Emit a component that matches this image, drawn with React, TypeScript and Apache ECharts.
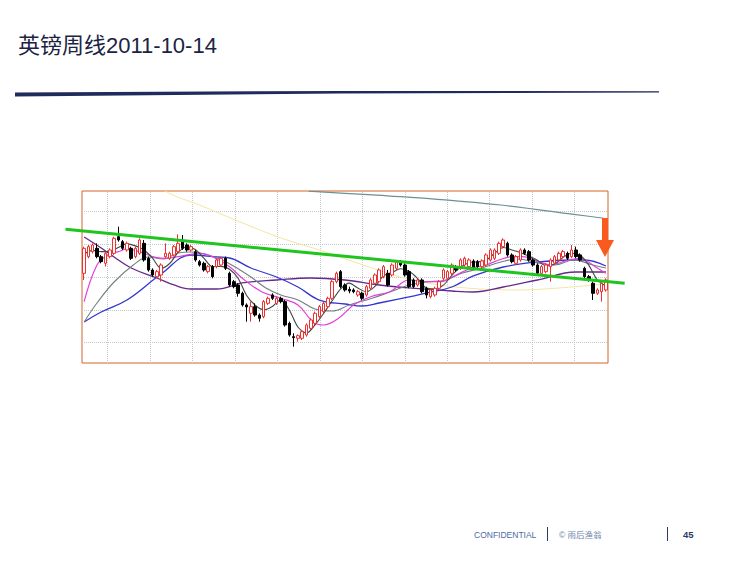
import React, { useEffect, useRef } from "react";
import * as echarts from "echarts";

// Weekly GBP candles (open, close, low, high)
const OPEN = [1.5990,1.6397,1.6519,1.6600,1.6397,1.6234,1.6397,1.6478,1.6885,1.6763,1.6560,1.6600,1.6397,1.6478,1.6722,1.6356,1.6071,1.5909,1.5949,1.6397,1.6356,1.6438,1.6519,1.6763,1.6682,1.6560,1.6519,1.6275,1.6234,1.6031,1.6153,1.6153,1.6193,1.6356,1.5990,1.5786,1.5705,1.5502,1.5217,1.5013,1.5176,1.4972,1.4932,1.5257,1.5461,1.5257,1.5379,1.5298,1.4769,1.4443,1.4403,1.4403,1.4484,1.4647,1.4769,1.4932,1.5054,1.5176,1.5379,1.5786,1.6031,1.5705,1.5599,1.5583,1.5461,1.5502,1.5461,1.5624,1.5746,1.5786,1.5909,1.5990,1.5949,1.6112,1.6258,1.6193,1.6031,1.5827,1.5705,1.5827,1.5624,1.5420,1.5461,1.5624,1.5868,1.5868,1.5990,1.6153,1.6112,1.6193,1.6153,1.6291,1.6275,1.6153,1.6193,1.6316,1.6356,1.6478,1.6641,1.6722,1.6438,1.6234,1.6316,1.6560,1.6519,1.6316,1.6193,1.5990,1.6031,1.6153,1.6234,1.6316,1.6397,1.6478,1.6397,1.6560,1.6438,1.6112,1.5909,1.5746,1.5502,1.5542,1.5583];
const CLOSE = [1.6600,1.6641,1.6682,1.6397,1.6275,1.6478,1.6560,1.6845,1.6804,1.6600,1.6722,1.6356,1.6600,1.6804,1.6316,1.6071,1.5949,1.6031,1.6193,1.6478,1.6478,1.6641,1.6722,1.6600,1.6560,1.6641,1.6316,1.6193,1.6071,1.6153,1.5909,1.6316,1.6356,1.6112,1.5705,1.5664,1.5502,1.5217,1.5168,1.5176,1.4972,1.4891,1.5298,1.5379,1.5379,1.5379,1.5298,1.4728,1.4484,1.4419,1.4468,1.4565,1.4728,1.4850,1.5013,1.5176,1.5257,1.5379,1.5786,1.5990,1.5664,1.5583,1.5558,1.5542,1.5542,1.5379,1.5664,1.5827,1.5949,1.6071,1.6153,1.5705,1.6193,1.6275,1.6193,1.5949,1.5664,1.5664,1.5827,1.5542,1.5461,1.5583,1.5624,1.5786,1.6071,1.6031,1.6193,1.6071,1.6316,1.6356,1.6316,1.6128,1.6153,1.6291,1.6438,1.6560,1.6560,1.6722,1.6804,1.6438,1.6275,1.6397,1.6560,1.6478,1.6316,1.6193,1.5990,1.6153,1.6193,1.6316,1.6397,1.6478,1.6519,1.6356,1.6560,1.6397,1.6316,1.5909,1.5827,1.5502,1.5583,1.5746,1.5827];
const LOW = [1.5827,1.6356,1.6478,1.6356,1.6234,1.6153,1.6356,1.6438,1.6763,1.6560,1.6519,1.6316,1.6356,1.6438,1.6275,1.6031,1.5909,1.5868,1.5786,1.6356,1.6316,1.6397,1.6478,1.6560,1.6519,1.6519,1.6275,1.6153,1.6031,1.5990,1.5868,1.6112,1.6153,1.6071,1.5664,1.5624,1.5420,1.5176,1.4810,1.4810,1.4932,1.4810,1.4891,1.5217,1.5339,1.5217,1.5257,1.4688,1.4443,1.4199,1.4321,1.4362,1.4443,1.4606,1.4728,1.4891,1.5013,1.5135,1.5339,1.5746,1.5624,1.5542,1.5502,1.5502,1.5420,1.5339,1.5420,1.5583,1.5705,1.5746,1.5868,1.5664,1.5909,1.6071,1.6153,1.5909,1.5624,1.5624,1.5664,1.5502,1.5379,1.5379,1.5420,1.5583,1.5827,1.5827,1.5949,1.6031,1.6071,1.6153,1.6112,1.6088,1.6112,1.6112,1.6153,1.6275,1.6316,1.6438,1.6600,1.6397,1.6234,1.6193,1.6275,1.6438,1.6275,1.6153,1.5949,1.5949,1.5990,1.5786,1.6193,1.6275,1.6356,1.6316,1.6356,1.6356,1.6275,1.5868,1.5786,1.5339,1.5461,1.5298,1.5542];
const HIGH = [1.6641,1.6682,1.6722,1.6722,1.6438,1.6519,1.6600,1.6885,1.7129,1.6804,1.6763,1.6641,1.6641,1.6845,1.6804,1.6397,1.6112,1.6071,1.6234,1.6722,1.6519,1.6682,1.6942,1.6926,1.6722,1.6682,1.6560,1.6316,1.6275,1.6193,1.6193,1.6356,1.6397,1.6397,1.6031,1.5827,1.5746,1.5542,1.5257,1.5298,1.5257,1.5013,1.5339,1.5420,1.5502,1.5420,1.5420,1.5339,1.4810,1.4525,1.4500,1.4606,1.4769,1.4891,1.5054,1.5217,1.5298,1.5420,1.5827,1.6031,1.6071,1.5746,1.5664,1.5624,1.5583,1.5542,1.5705,1.5868,1.5990,1.6112,1.6193,1.6071,1.6234,1.6316,1.6316,1.6234,1.6071,1.5868,1.5868,1.5868,1.5664,1.5624,1.5664,1.5827,1.6112,1.6071,1.6234,1.6193,1.6356,1.6397,1.6356,1.6332,1.6316,1.6332,1.6478,1.6600,1.6600,1.6763,1.6845,1.6763,1.6478,1.6438,1.6600,1.6600,1.6560,1.6356,1.6234,1.6193,1.6234,1.6356,1.6438,1.6519,1.6560,1.6519,1.6682,1.6641,1.6478,1.6153,1.5949,1.5786,1.5624,1.5786,1.5868];

// Moving averages as [week index, price]
const MA5 = [[0,1.646],[2,1.655],[4,1.652],[6,1.652],[8,1.662],[10,1.671],[12,1.666],[14,1.656],[16,1.636],[18,1.611],[20,1.623],[22,1.650],[24,1.664],[26,1.657],[28,1.636],[30,1.615],[32,1.616],[34,1.609],[36,1.587],[38,1.545],[40,1.521],[42,1.510],[44,1.518],[46,1.535],[48,1.509],[50,1.468],[52,1.453],[54,1.473],[56,1.501],[58,1.532],[60,1.561],[62,1.575],[64,1.563],[66,1.554],[68,1.567],[70,1.593],[72,1.601],[74,1.610],[76,1.604],[78,1.586],[80,1.563],[82,1.561],[84,1.570],[86,1.594],[88,1.614],[90,1.625],[92,1.627],[94,1.631],[96,1.648],[98,1.662],[100,1.656],[102,1.650],[104,1.641],[106,1.631],[108,1.617],[110,1.621],[112,1.638],[114,1.648],[116,1.643],[118,1.619],[120,1.583],[122,1.568]];
const MA10 = [[0,1.5297],[3,1.6193],[5.5,1.6437],[8,1.6518],[10,1.6584],[13,1.6518],[17,1.6371],[19,1.6357],[22,1.6396],[24,1.6437],[27,1.6479],[30,1.6396],[34,1.6152],[37,1.5868],[41.5,1.5541],[46,1.5380],[50,1.5216],[53.5,1.4809],[56,1.4728],[59.5,1.4892],[63,1.5216],[67,1.5419],[71.5,1.5541],[76,1.5827],[80,1.5785],[83.5,1.5785],[87,1.5949],[90.5,1.6113],[94,1.6193],[97,1.6315],[100,1.6396],[102.5,1.6396],[106,1.6291],[109,1.6193],[112.5,1.6291],[116,1.6357],[119.5,1.6152],[122,1.5990]];
const MA20 = [[0,1.4801],[3,1.5265],[7,1.5778],[11.5,1.6193],[15,1.6389],[18.5,1.6340],[22,1.6486],[25,1.6511],[30.5,1.6389],[34.5,1.6193],[39,1.5900],[42.5,1.5632],[46,1.5461],[50,1.5338],[54,1.5119],[58,1.5070],[62,1.5216],[67.5,1.5387],[71.5,1.5534],[76,1.5705],[80,1.5778],[84.5,1.5827],[88.5,1.5998],[93,1.6120],[97.5,1.6266],[101.5,1.6340],[106,1.6242],[110,1.6193],[114.5,1.6315],[119,1.6193],[122,1.6120]];
const MA30 = [[0,1.4801],[4,1.5045],[10,1.5338],[18,1.5973],[25,1.6437],[31,1.6389],[34,1.6364],[39,1.6120],[45,1.5900],[50,1.5656],[55,1.5338],[61,1.5241],[65,1.5192],[69,1.5265],[76,1.5412],[80,1.5509],[86,1.5656],[91,1.5925],[98,1.6144],[106,1.6266],[114,1.6315],[117,1.6315],[122,1.6169]];
const MA60 = [[0,1.6877],[4,1.6608],[7,1.6389],[11,1.6120],[17,1.5876],[21,1.5705],[25,1.5607],[31,1.5607],[37,1.5754],[45,1.5827],[53,1.5876],[61,1.5827],[69,1.5705],[76,1.5632],[86,1.5558],[91,1.5534],[98,1.5656],[106,1.5827],[115,1.6022],[122,1.6022]];
const MA120 = [[15,1.8537],[19,1.8000],[27,1.7658],[36.5,1.7243],[46,1.6853],[55,1.6559],[64.5,1.6218],[74,1.5900],[83,1.5705],[92.5,1.5607],[102,1.5583],[111,1.5632],[122,1.5729]];
const MA250 = [[52.5,1.7995],[67.5,1.7903],[80,1.7822],[97.5,1.7658],[114.5,1.7431],[121.5,1.7334]];

// Trend line drawn on the slide (extends beyond the plot)
const TREND = [[-4.35, 1.7065], [126.4, 1.5746]];

// Dotted grid positions
const H_GRID = [1.4337, 1.5131, 1.5925, 1.6718, 1.7512];
const V_GRID = [5.5, 15.4, 25.2, 35.3, 45.2, 55.1, 65.0, 75.0, 84.9, 94.7, 104.8, 114.7];

const TITLE = "英镑周线2011-10-14";
const FOOT_LEFT = "CONFIDENTIAL";
const FOOT_MID = "© 雨后渔翁";
const PAGE_NO = "45";

export default function App() {
  const ref = useRef<HTMLDivElement>(null);

  useEffect(() => {
    const chart = echarts.init(ref.current as HTMLDivElement, null, { renderer: "svg" });
    const candles = OPEN.map((o, i) => [o, CLOSE[i], LOW[i], HIGH[i]]);
    const cats = OPEN.map((_, i) => String(i));

    const ma = (name: string, data: number[][], color: string, width = 1.2, smooth = 0.35) => ({
      type: "line",
      name,
      xAxisIndex: 1,
      yAxisIndex: 0,
      data,
      symbol: "none",
      showSymbol: false,
      smooth,
      clip: true,
      silent: true,
      z: 3,
      lineStyle: { color, width },
      itemStyle: { color },
    });

    const font = '"Liberation Sans", "Noto Sans CJK SC", sans-serif';

    const staticGraphics: any[] = [
      {
        id: "title",
        type: "text",
        x: 18,
        y: 45,
        style: {
          text: TITLE,
          font: "22px " + font,
          fill: "#1b2444",
          textVerticalAlign: "middle",
          verticalAlign: "middle",
        },
      },
      {
        id: "swoosh",
        type: "polygon",
        shape: {
          points: [[15, 92.6], [340, 90.9], [659, 91.2], [659, 92.5], [340, 93.4], [15, 96.6]],
        },
        style: { fill: "#1f2b5d" },
      },
      {
        id: "arrow",
        type: "polygon",
        z: 20,
        shape: {
          points: [[602, 218], [608, 218], [608, 240], [614, 240], [605, 257], [596, 240], [602, 240]],
        },
        style: { fill: "#fa5a1e" },
      },
      {
        id: "foot1",
        type: "text",
        x: 474,
        y: 534.5,
        style: {
          text: FOOT_LEFT,
          font: "8.5px " + font,
          fill: "#4c6ba3",
          textVerticalAlign: "middle",
          verticalAlign: "middle",
        },
      },
      {
        id: "sep1",
        type: "line",
        shape: { x1: 547.5, y1: 527, x2: 547.5, y2: 541 },
        style: { stroke: "#2b3a67", lineWidth: 1 },
      },
      {
        id: "foot2",
        type: "text",
        x: 559,
        y: 534.5,
        style: {
          text: FOOT_MID,
          font: "8.5px " + font,
          fill: "#6d84ad",
          textVerticalAlign: "middle",
          verticalAlign: "middle",
        },
      },
      {
        id: "sep2",
        type: "line",
        shape: { x1: 667.5, y1: 527, x2: 667.5, y2: 541 },
        style: { stroke: "#2b3a67", lineWidth: 1 },
      },
      {
        id: "page",
        type: "text",
        x: 683,
        y: 534.5,
        style: {
          text: PAGE_NO,
          font: "bold 9.5px " + font,
          fill: "#2b3a67",
          textVerticalAlign: "middle",
          verticalAlign: "middle",
        },
      },
    ];

    chart.setOption({
      animation: false,
      backgroundColor: "#ffffff",
      grid: {
        left: 82,
        top: 191,
        width: 526,
        height: 172,
        show: true,
        borderColor: "#d4622a",
        borderWidth: 1,
        backgroundColor: "#ffffff",
      },
      xAxis: [
        { type: "category", data: cats, boundaryGap: true, show: false },
        { type: "value", min: -0.5, max: 122.5, show: false, splitLine: { show: false } },
      ],
      yAxis: [
        { type: "value", min: 1.38, max: 1.8, scale: true, show: false, splitLine: { show: false } },
      ],
      series: [
        {
          type: "line",
          name: "grid",
          xAxisIndex: 1,
          yAxisIndex: 0,
          data: [[-0.5, 1.5], [122.5, 1.5]],
          symbol: "none",
          lineStyle: { opacity: 0, width: 0 },
          silent: true,
          z: 1,
          markLine: {
            z: 1,
            silent: true,
            symbol: ["none", "none"],
            label: { show: false },
            lineStyle: { color: "#bfc7cf", type: "dotted", width: 1 },
            data: [
              ...H_GRID.map((v) => ({ yAxis: v })),
              ...V_GRID.map((v) => ({ xAxis: v })),
            ],
          },
        },
        ma("MA120", MA120, "#f0e7a0", 1, 0.3),
        ma("MA250", MA250, "#6e9090", 1.2, 0.3),
        ma("MA60", MA60, "#66288a", 1.3, 0.4),
        ma("MA30", MA30, "#3434d2", 1.3, 0.4),
        ma("MA20", MA20, "#738080", 1.1, 0.4),
        ma("MA10", MA10, "#e23fdc", 1.2, 0.4),
        ma("MA5", MA5, "#3f4a44", 1.1, 0.3),
        {
          type: "candlestick",
          name: "GBP",
          xAxisIndex: 0,
          yAxisIndex: 0,
          data: candles,
          barWidth: 3,
          silent: true,
          z: 4,
          itemStyle: {
            color: "#ffffff",
            color0: "#000000",
            borderColor: "#ee3030",
            borderColor0: "#000000",
            borderWidth: 1,
          },
        },
      ],
      graphic: staticGraphics,
    });

    // Trend line: positioned through the chart's own scales, allowed past the plot edges
    const p1 = chart.convertToPixel({ xAxisIndex: 1, yAxisIndex: 0 }, TREND[0]) as number[];
    const p2 = chart.convertToPixel({ xAxisIndex: 1, yAxisIndex: 0 }, TREND[1]) as number[];
    chart.setOption({
      graphic: [
        ...staticGraphics,
        {
          id: "trend",
          type: "line",
          z: 15,
          shape: { x1: p1[0], y1: p1[1], x2: p2[0], y2: p2[1] },
          style: { stroke: "#1fc41f", lineWidth: 3 },
        },
      ],
    });

    return () => chart.dispose();
  }, []);

  return (
    <div
      ref={ref}
      style={{ position: "fixed", left: 0, top: 0, width: 733, height: 564, background: "#ffffff" }}
    />
  );
}
